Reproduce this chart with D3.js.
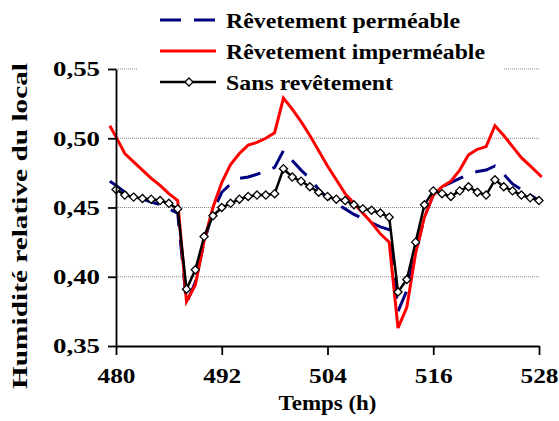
<!DOCTYPE html>
<html>
<head>
<meta charset="utf-8">
<script src="https://cdn.jsdelivr.net/npm/d3@7/dist/d3.min.js"></script>
<style>
  html, body { margin: 0; padding: 0; background: #fff; }
  svg { display: block; }
  text { font-family: "Liberation Serif", "Times New Roman", serif; font-weight: bold; fill: #000; }
</style>
</head>
<body>
<svg id="chart" width="559" height="421"></svg>
<script>
// Hourly time axis (h); the two coated-wall runs carry one extra sample at each end
const hours = d3.range(480, 529);
const hoursExt = [479.3, ...hours, 528.3];

const xTicks = [480, 492, 504, 516, 528];
const yTicks = [0.35, 0.40, 0.45, 0.50, 0.55];

const seriesNames = ["Rêvetement perméable", "Rêvetement imperméable", "Sans revêtement"];

// Relative humidity of the room
const permeable = [
  0.469,
  0.466, 0.461, 0.458, 0.456, 0.454, 0.452, 0.449, 0.446,
  0.381, 0.396, 0.425, 0.447, 0.461, 0.467, 0.471, 0.472,
  0.474, 0.476, 0.479, 0.491, 0.484, 0.477, 0.471, 0.463,
  0.457, 0.453, 0.449, 0.445, 0.442, 0.439, 0.436, 0.434,
  0.375, 0.390, 0.417, 0.443, 0.459, 0.465, 0.468, 0.471,
  0.474, 0.476, 0.477, 0.480, 0.474, 0.467, 0.463, 0.459,
  0.455,
  0.454
];

const impermeable = [
  0.509,
  0.501, 0.489, 0.483, 0.477, 0.471, 0.466, 0.460, 0.455,
  0.382, 0.394, 0.426, 0.450, 0.468, 0.481, 0.489, 0.495,
  0.497, 0.500, 0.504, 0.529, 0.521, 0.512, 0.502, 0.491,
  0.480, 0.470, 0.460, 0.453, 0.446, 0.439, 0.431, 0.425,
  0.363, 0.378, 0.417, 0.443, 0.459, 0.465, 0.469, 0.477,
  0.488, 0.492, 0.494, 0.509, 0.502, 0.494, 0.486, 0.480,
  0.474,
  0.472
];

const uncoated = [
  0.463, 0.459, 0.4575, 0.4565, 0.456, 0.455, 0.453, 0.449,
  0.391, 0.405, 0.429, 0.444, 0.450, 0.453, 0.456, 0.458,
  0.459, 0.459, 0.460, 0.478, 0.472, 0.469, 0.465, 0.461,
  0.458, 0.456, 0.455, 0.452, 0.449, 0.448, 0.446, 0.443,
  0.389, 0.398, 0.425, 0.452, 0.462, 0.460, 0.458, 0.462,
  0.465, 0.461, 0.459, 0.470, 0.465, 0.462, 0.459, 0.457,
  0.455
];

const svg = d3.select("#chart");
const plot = { left: 116, right: 539, top: 69, bottom: 346 };

const x = d3.scaleLinear().domain([480, 528]).range([plot.left, plot.right]);
const y = d3.scaleLinear().domain([0.35, 0.55]).range([plot.bottom, plot.top]);

const fmt = d => d3.format(".2f")(d).replace(".", ",");

// Dotted horizontal gridlines
svg.append("g")
  .selectAll("line")
  .data(yTicks.slice(1))
  .join("line")
  .attr("x1", plot.left).attr("x2", plot.right)
  .attr("y1", d => y(d)).attr("y2", d => y(d))
  .attr("stroke", "#8c8c8c")
  .attr("stroke-width", 1)
  .attr("stroke-dasharray", "1,1");

// Series
const line = d3.line().x(d => x(d[0])).y(d => y(d[1]));

svg.append("path")
  .datum(hoursExt.map((h, i) => [h, permeable[i]]))
  .attr("d", line)
  .attr("fill", "none")
  .attr("stroke", "#000080")
  .attr("stroke-width", 3)
  .attr("stroke-dasharray", "21,13");

svg.append("path")
  .datum(hoursExt.map((h, i) => [h, impermeable[i]]))
  .attr("d", line)
  .attr("fill", "none")
  .attr("stroke", "#ff0000")
  .attr("stroke-width", 3);

const uncoatedPts = hours.map((h, i) => [h, uncoated[i]]);
svg.append("path")
  .datum(uncoatedPts)
  .attr("d", line)
  .attr("fill", "none")
  .attr("stroke", "#000")
  .attr("stroke-width", 2.5);

const diamond = d3.symbol().type(d3.symbolDiamond2).size(42);
svg.append("g")
  .selectAll("path")
  .data(uncoatedPts)
  .join("path")
  .attr("transform", d => `translate(${x(d[0])},${y(d[1])})`)
  .attr("d", diamond)
  .attr("fill", "#fff")
  .attr("stroke", "#000")
  .attr("stroke-width", 1.3);

// Axes
const xAxis = svg.append("g")
  .attr("transform", `translate(0,${plot.bottom})`)
  .call(d3.axisBottom(x).tickValues(xTicks).tickSize(9).tickSizeOuter(0).tickFormat(d3.format("d")));
const yAxis = svg.append("g")
  .attr("transform", `translate(${plot.left},0)`)
  .call(d3.axisLeft(y).tickValues(yTicks).tickSize(8).tickSizeOuter(0).tickFormat(fmt));

[xAxis, yAxis].forEach(g => {
  g.select(".domain").attr("stroke", "#000").attr("stroke-width", 1.8);
  g.selectAll(".tick line").attr("stroke", "#000").attr("stroke-width", 1.8);
  g.selectAll(".tick text")
    .attr("fill", "#000")
    .style("font-family", "'Liberation Serif', serif")
    .style("font-weight", "bold")
    .style("font-size", "20px");
});
xAxis.selectAll(".tick text").attr("dy", null).attr("y", 37)
  .attr("textLength", 38).attr("lengthAdjust", "spacingAndGlyphs");
yAxis.selectAll(".tick text").attr("x", -16).attr("dy", "0.34em")
  .attr("textLength", 47).attr("lengthAdjust", "spacingAndGlyphs");

// Axis titles
svg.append("text")
  .attr("x", (plot.left + plot.right) / 2)
  .attr("y", 410)
  .attr("text-anchor", "middle")
  .style("font-size", "20px")
  .attr("textLength", 98).attr("lengthAdjust", "spacingAndGlyphs")
  .text("Temps (h)");

svg.append("text")
  .attr("transform", `translate(27,226) rotate(-90)`)
  .attr("text-anchor", "middle")
  .style("font-size", "21px")
  .attr("textLength", 326).attr("lengthAdjust", "spacingAndGlyphs")
  .text("Humidité relative du local");

// Legend
const legend = svg.append("g");
legend.append("rect")
  .attr("x", 138).attr("y", 0).attr("width", 365).attr("height", 95)
  .attr("fill", "#fff");

const rows = [
  { y: 20, stroke: "#000080", width: 3, dash: "21,13", marker: false, len: 234 },
  { y: 51, stroke: "#ff0000", width: 3, dash: null, marker: false, len: 259 },
  { y: 82, stroke: "#000", width: 2.5, dash: null, marker: true, len: 167 }
];
rows.forEach((r, i) => {
  legend.append("line")
    .attr("x1", 160).attr("x2", 216)
    .attr("y1", r.y).attr("y2", r.y)
    .attr("stroke", r.stroke)
    .attr("stroke-width", r.width)
    .attr("stroke-dasharray", r.dash);
  if (r.marker) {
    legend.append("path")
      .attr("transform", `translate(189,${r.y})`)
      .attr("d", diamond)
      .attr("fill", "#fff").attr("stroke", "#000").attr("stroke-width", 1.3);
  }
  legend.append("text")
    .attr("x", 226).attr("y", r.y + 8)
    .style("font-size", "22px")
    .attr("textLength", r.len).attr("lengthAdjust", "spacingAndGlyphs")
    .text(seriesNames[i]);
});
</script>
</body>
</html>
